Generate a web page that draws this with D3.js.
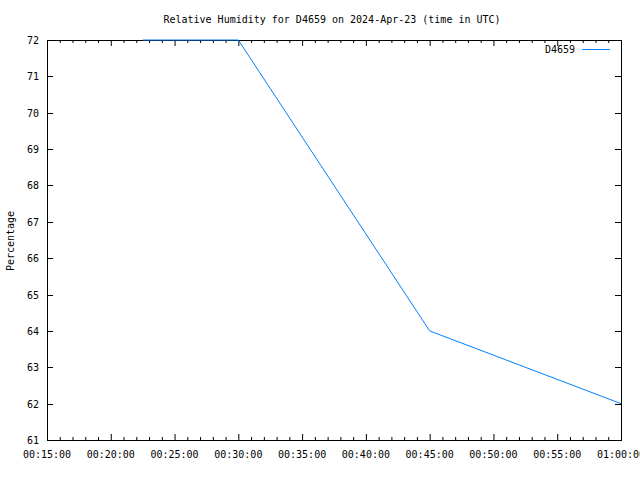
<!DOCTYPE html>
<html><head><meta charset="utf-8">
<script src="https://cdn.jsdelivr.net/npm/d3@7"></script>
<style>body{margin:0;background:#fff}text{font-family:"DejaVu Sans Mono",monospace;font-size:10px;fill:#000}</style>
</head><body><svg id="c" width="640" height="480"></svg>
<script>
const times = ["00:22:30","00:30:00","00:45:00","01:00:00"];
const values = [72, 72, 64, 62];
const yTicks = [61,62,63,64,65,66,67,68,69,70,71,72];
const xTickLabels = ["00:15:00","00:20:00","00:25:00","00:30:00","00:35:00","00:40:00","00:45:00","00:50:00","00:55:00","01:00:00"];
const seriesName = "D4659";
const title = "Relative Humidity for D4659 on 2024-Apr-23 (time in UTC)";

const parse = s => { const [h,m,sec] = s.split(":").map(Number); return new Date(Date.UTC(2024,3,23,h,m,sec)); };
const svg = d3.select("#c");
const L=47, R=621, T=40, B=440;
const x = d3.scaleUtc().domain([parse("00:15:00"), parse("01:00:00")]).range([L,R]);
const y = d3.scaleLinear().domain([61,72]).range([B,T]);

const g = svg.append("g");
const minor = d3.utcMinute.every(1).range(parse("00:15:00"), new Date(+parse("01:00:00")+1));
minor.forEach(t => {
  const isMajor = t.getUTCMinutes() % 5 === 0;
  const len = isMajor ? 6 : 3;
  g.append("line").attr("x1",x(t)+0.5).attr("x2",x(t)+0.5).attr("y1",B).attr("y2",B-len).attr("stroke","#000");
  g.append("line").attr("x1",x(t)+0.5).attr("x2",x(t)+0.5).attr("y1",T).attr("y2",T+len).attr("stroke","#000");
});
xTickLabels.forEach(s => {
  g.append("text").attr("x",x(parse(s))).attr("y",B+18).attr("text-anchor","middle").text(s);
});
yTicks.forEach(v => {
  g.append("line").attr("x1",L).attr("x2",L+6).attr("y1",Math.round(y(v))+0.5).attr("y2",Math.round(y(v))+0.5).attr("stroke","#000");
  g.append("line").attr("x1",R).attr("x2",R-6).attr("y1",Math.round(y(v))+0.5).attr("y2",Math.round(y(v))+0.5).attr("stroke","#000");
  g.append("text").attr("x",L-8).attr("y",y(v)+4).attr("text-anchor","end").text(v);
});
g.append("rect").attr("x",L+0.5).attr("y",T+0.5).attr("width",R-L).attr("height",B-T).attr("fill","none").attr("stroke","#000");

const line = d3.line().x((d,i)=>x(parse(times[i]))).y(d=>y(d));
svg.append("path").attr("d",line(values)).attr("fill","none").attr("stroke","#0080ff").attr("stroke-width",1);

svg.append("text").attr("x",332).attr("y",23).attr("text-anchor","middle").text(title);
svg.append("text").attr("transform","translate(14,241) rotate(-90)").attr("text-anchor","middle").text("Percentage");
svg.append("text").attr("x",575).attr("y",53).attr("text-anchor","end").text(seriesName);
svg.append("line").attr("x1",582).attr("x2",610).attr("y1",49.5).attr("y2",49.5).attr("stroke","#0080ff");
</script></body></html>
